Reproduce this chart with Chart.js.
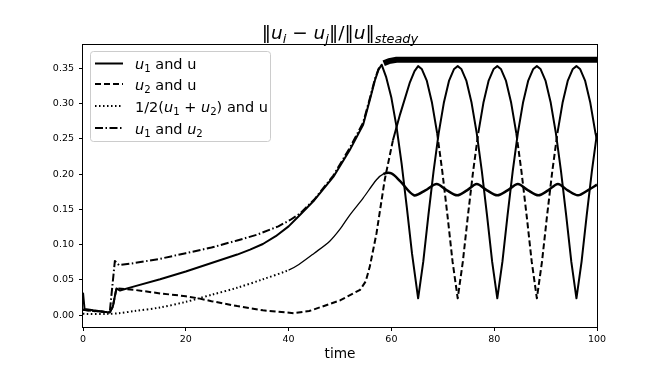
<!DOCTYPE html>
<html>
<head>
<meta charset="utf-8">
<script src="https://cdn.jsdelivr.net/npm/chart.js@4.4.1/dist/chart.umd.min.js"></script>
<style>
  body { margin: 0; background: #fff; }
  canvas { display: block; }
</style>
</head>
<body>
<canvas id="chart" width="664" height="369" style="width:664px;height:369px"></canvas>
<script>
// text with a bit of mathtext: $...$ is math, _x / _{xy} is a subscript
const title = '$‖u_i − u_j‖/‖u‖_{steady}$';
const labels = ['$u_1$ and u', '$u_2$ and u', '1/2$(u_1 + u_2)$ and u', '$u_1$ and $u_2$'];
const xLabel = 'time';
const xTicks = [0, 20, 40, 60, 80, 100];
const yTicks = [0, 0.05, 0.1, 0.15, 0.2, 0.25, 0.3, 0.35];

// u1 and u (solid)
const u1uT = [0, 0.3, 2, 4, 5.2, 5.8, 6.5, 7.2, 10, 15, 20, 25, 30, 32.5, 35, 37.5, 40, 42.2, 45, 48.7, 51.9, 54.5, 55.8, 56.8, 57.5, 58.1,
  59, 60, 61, 62, 63, 64, 65.2, 66.2, 67.2, 68.2, 69.2, 70.2, 71.2, 72.2, 72.9, 73.6, 74.6, 75.6, 76.6, 77.6, 78.6, 79.6,
  80.6, 81.6, 82.6, 83.6, 84.6, 85.6, 86.6, 87.6, 88.3, 89, 90, 91, 92, 93, 94, 95, 96, 97, 98, 99, 100];
const u1uV = [0.032, 0.009, 0.007, 0.005, 0.004, 0.012, 0.038, 0.035, 0.041, 0.051, 0.062, 0.074, 0.086, 0.093, 0.101, 0.112, 0.126, 0.142, 0.163, 0.196, 0.234, 0.270, 0.305, 0.333, 0.348, 0.355,
  0.337, 0.308, 0.267, 0.214, 0.153, 0.088, 0.024, 0.076, 0.142, 0.204, 0.258, 0.301, 0.332, 0.349, 0.353, 0.349, 0.332, 0.301, 0.258, 0.204, 0.142, 0.076,
  0.024, 0.076, 0.142, 0.204, 0.258, 0.301, 0.332, 0.349, 0.353, 0.349, 0.332, 0.301, 0.258, 0.204, 0.142, 0.076, 0.024, 0.076, 0.142, 0.204, 0.258];

// u2 and u (dashed)
const u2uT = [0, 2, 4, 5.2, 5.8, 6.5, 10, 15, 20, 22.5, 25, 30, 35, 38, 41, 44, 48, 50, 53.9, 55, 55.8, 57.1, 58.7, 60.3, 61.7, 63.6, 64.5, 65.2,
  65.9, 66.9, 67.9, 68.9, 69.9, 70.9, 71.9, 72.9, 73.9, 74.9, 75.9, 76.9, 77.9, 78.9, 79.9, 80.6, 81.3, 82.3, 83.3, 84.3, 85.3, 86.3, 87.3,
  88.3, 89.3, 90.3, 91.3, 92.3, 93.3, 94.3, 95.3, 96, 96.7, 97.7, 98.7, 99.7, 100];
const u2uV = [0.008, 0.006, 0.005, 0.004, 0.012, 0.038, 0.036, 0.031, 0.027, 0.024, 0.020, 0.013, 0.007, 0.005, 0.003, 0.006, 0.016, 0.021, 0.036, 0.048, 0.069, 0.116, 0.192, 0.248, 0.285, 0.330, 0.346, 0.353,
  0.349, 0.332, 0.301, 0.258, 0.204, 0.142, 0.076, 0.024, 0.076, 0.142, 0.204, 0.258, 0.301, 0.332, 0.349, 0.353, 0.349, 0.332, 0.301, 0.258, 0.204, 0.142, 0.076,
  0.024, 0.076, 0.142, 0.204, 0.258, 0.301, 0.332, 0.349, 0.353, 0.349, 0.332, 0.301, 0.258, 0.249];

// 1/2(u1+u2) and u (dotted)
const avgT = [0, 5, 7, 10, 15, 20, 22.5, 25, 30, 35, 40, 42, 45, 48, 50, 51.9, 54.5, 57.1, 58.4, 60, 61.7, 64.4, 66.6, 68.8, 70.8, 72.8,
  74.7, 76.6, 78.6, 80.6, 82.6, 84.6, 86.6, 88.6, 90.5, 92.4, 94.3, 96.3, 98.2, 100];
const avgV = [0.002, 0.002, 0.003, 0.006, 0.011, 0.019, 0.024, 0.029, 0.039, 0.051, 0.064, 0.072, 0.088, 0.105, 0.122, 0.142, 0.166, 0.192, 0.200, 0.201, 0.190, 0.170, 0.177, 0.186, 0.177, 0.170,
  0.177, 0.186, 0.177, 0.170, 0.177, 0.186, 0.177, 0.170, 0.177, 0.186, 0.177, 0.170, 0.177, 0.185];

// u1 and u2 (dash-dot)
const u12T = [0, 2, 4, 5.2, 6.2, 7, 10, 15, 20, 25, 30, 33.8, 38, 40.3, 42.2, 45, 48.7, 51.9, 54.5, 55.8, 56.8, 57.5, 58.5, 59.5, 61, 70, 80, 90, 100];
const u12V = [0.008, 0.006, 0.005, 0.004, 0.077, 0.071, 0.074, 0.080, 0.088, 0.096, 0.106, 0.114, 0.126, 0.135, 0.144, 0.164, 0.198, 0.237, 0.273, 0.307, 0.335, 0.349, 0.357, 0.360, 0.362, 0.362, 0.362, 0.362, 0.362];

const pts = (t, v) => t.map((x, i) => ({ x: x, y: v[i] }));
const FONT = 'DejaVu Sans';

function parseMath(str) {
  const out = [];
  str.split('$').forEach((p, i) => {
    if (i % 2 === 0) { if (p) out.push({ t: p, it: false, sub: false }); return; }
    let k = 0;
    while (k < p.length) {
      const c = p[k];
      if (c === '_') {
        let s;
        if (p[k + 1] === '{') { const e = p.indexOf('}', k); s = p.slice(k + 2, e); k = e + 1; }
        else { s = p[k + 1]; k += 2; }
        out.push({ t: s, it: /[a-z]/i.test(s), sub: true });
      } else {
        out.push({ t: c, it: /[a-zA-Z]/.test(c), sub: false });
        k++;
      }
    }
  });
  return out;
}

function drawRich(ctx, str, x, y, size, align) {
  const parts = parseMath(str);
  const fontOf = p => (p.it ? 'italic ' : '') + (p.sub ? size * 0.7 : size) + 'px "' + FONT + '"';
  let total = 0;
  parts.forEach(p => { ctx.font = fontOf(p); p.w = ctx.measureText(p.t).width; total += p.w; });
  let cx = align === 'center' ? x - total / 2 : x;
  ctx.textAlign = 'left';
  ctx.textBaseline = 'alphabetic';
  parts.forEach(p => {
    ctx.font = fontOf(p);
    ctx.fillText(p.t, cx, y + (p.sub ? size * 0.22 : 0));
    cx += p.w;
  });
}

const styles = [
  { dash: [], width: 2 },
  { dash: [6, 3], width: 2 },
  { dash: [1.5, 2.5], width: 2 },
  { dash: [8, 2.5, 1.5, 2.5], width: 2 }
];

const framePlugin = {
  id: 'frame',
  afterDraw(chart) {
    const ctx = chart.ctx;
    const a = chart.chartArea;
    ctx.save();
    ctx.strokeStyle = '#000';
    ctx.lineWidth = 1;
    ctx.strokeRect(Math.round(a.left) - 0.5, Math.round(a.top) + 0.5, Math.round(a.right - a.left) + 1, Math.round(a.bottom - a.top));

    ctx.fillStyle = '#000';
    drawRich(ctx, title, (a.left + a.right) / 2, 39, 18.5, 'center');

    // legend
    const bx = 90.5, by = 51.5, bw = 180, bh = 90, r = 3;
    ctx.beginPath();
    ctx.moveTo(bx + r, by);
    ctx.arcTo(bx + bw, by, bx + bw, by + bh, r);
    ctx.arcTo(bx + bw, by + bh, bx, by + bh, r);
    ctx.arcTo(bx, by + bh, bx, by, r);
    ctx.arcTo(bx, by, bx + bw, by, r);
    ctx.closePath();
    ctx.fillStyle = 'rgba(255,255,255,0.8)';
    ctx.fill();
    ctx.strokeStyle = '#cccccc';
    ctx.lineWidth = 1;
    ctx.stroke();

    const rows = [63.5, 84, 106, 128];
    labels.forEach((lab, i) => {
      const y = rows[i];
      ctx.beginPath();
      ctx.setLineDash(styles[i].dash);
      ctx.lineWidth = styles[i].width;
      ctx.strokeStyle = '#000';
      ctx.moveTo(95, y);
      ctx.lineTo(123, y);
      ctx.stroke();
      ctx.setLineDash([]);
      ctx.fillStyle = '#000';
      drawRich(ctx, lab, 135, y + 5.5, 14.5, 'left');
    });
    ctx.restore();
  }
};

const tickFont = { family: FONT, size: 9.5 };

new Chart(document.getElementById('chart'), {
  type: 'line',
  data: {
    datasets: [
      {
        label: labels[0], data: pts(u1uT, u1uV),
        borderColor: '#000', borderWidth: 2, borderJoinStyle: 'round', pointRadius: 0, tension: 0
      },
      {
        label: labels[1], data: pts(u2uT, u2uV),
        borderColor: '#000', borderWidth: 2, borderJoinStyle: 'round', borderDash: styles[1].dash, pointRadius: 0, tension: 0,
        segment: {
          borderDash: c => (c.p0.parsed.x >= 60 && c.p0.parsed.y > 0.23 && c.p1.parsed.y > 0.23) ? [] : undefined
        }
      },
      {
        label: labels[2], data: pts(avgT, avgV),
        borderColor: '#000', borderWidth: 2, borderJoinStyle: 'round', borderDash: styles[2].dash, pointRadius: 0, tension: 0.3,
        segment: {
          borderDash: c => c.p0.parsed.x >= 40 ? [] : undefined,
          borderWidth: c => c.p0.parsed.x >= 58 ? 2.5 : (c.p0.parsed.x >= 40 ? 1.3 : undefined)
        }
      },
      {
        label: labels[3], data: pts(u12T, u12V),
        borderColor: '#000', borderWidth: 2, borderJoinStyle: 'round', borderDash: styles[3].dash, pointRadius: 0, tension: 0,
        segment: {
          borderDash: c => c.p0.parsed.x >= 58.5 ? [] : undefined,
          borderWidth: c => c.p0.parsed.x >= 58.5 ? 6 : undefined
        }
      }
    ]
  },
  options: {
    responsive: false,
    animation: false,
    devicePixelRatio: 1,
    layout: { padding: { top: 44, right: 67, left: 0, bottom: 0 } },
    plugins: { legend: { display: false }, title: { display: false }, tooltip: { enabled: false } },
    scales: {
      x: {
        type: 'linear', min: 0, max: 100,
        afterBuildTicks: s => { s.ticks = xTicks.map(v => ({ value: v })); },
        afterFit: s => { s.height = 42; },
        ticks: { font: tickFont, color: '#000', padding: 3, maxRotation: 0, callback: v => String(v) },
        grid: { drawOnChartArea: false, tickLength: 4, color: '#000' },
        border: { display: false },
        title: { display: true, text: xLabel, color: '#000', font: { family: FONT, size: 13.7 }, padding: { top: 0, bottom: 6 } }
      },
      y: {
        type: 'linear', min: -0.0166, max: 0.3843,
        afterBuildTicks: s => { s.ticks = yTicks.map(v => ({ value: v })); },
        afterFit: s => { s.width = 83; },
        ticks: { font: tickFont, color: '#000', padding: 5, callback: v => v.toFixed(2) },
        grid: { drawOnChartArea: false, tickLength: 4, color: '#000' },
        border: { display: false }
      }
    }
  },
  plugins: [framePlugin]
});
</script>
</body>
</html>
